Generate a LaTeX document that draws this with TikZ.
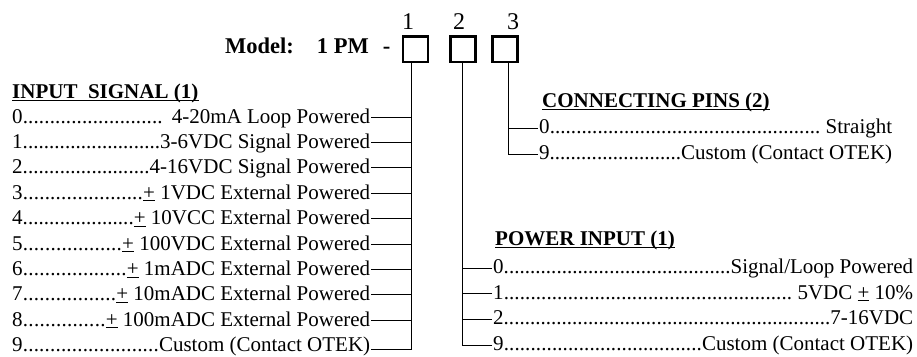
\documentclass[tikz,border=0pt]{standalone}
\usepackage{fontspec}
\setmainfont{Liberation Serif}
\newcommand\dfill{\xleaders\hbox{.}\hfill}
\newcommand\pmu{\underline{+}}
\tikzset{
 txt/.style={inner sep=0pt, anchor=base west, font=\fontsize{21}{25}\selectfont},
 head/.style={inner sep=0pt, anchor=base west, font=\fontsize{21}{25}\selectfont\bfseries},
 ul/.style={line width=1.1pt},
 wire/.style={line width=0.9pt},
 slot/.style={draw, line width=2.5pt, minimum width=25pt, minimum height=25.7pt, inner sep=0pt},
 num/.style={inner sep=0pt, anchor=base, font=\fontsize{24}{28}\selectfont}
}
\begin{document}
\begin{tikzpicture}[x=1pt,y=-1pt]
\useasboundingbox (0,0) rectangle (917,356);
% model line
\node[inner sep=0pt, anchor=base west, font=\fontsize{22.5}{26}\selectfont\bfseries] (model) at (225,53) {Model:\hspace{23pt}1 PM\hspace{14pt}-};
\node[slot] (b1) at (415.5,49.2) {};
\node[slot] (b2) at (463.2,49.2) {};
\node[slot] (b3) at (505.2,49.2) {};
\node[num] (n1) at (408,29) {1};
\node[num] (n2) at (459,29) {2};
\node[num] (n3) at (513,29) {3};
\coordinate (v1) at ([xshift=-3.8pt]b1.south);
\coordinate (v2) at ([xshift=-0.5pt]b2.south);
\coordinate (v3) at ([xshift=3.1pt]b3.south);
% input signal
\node[head] (h1) at (12,98) {INPUT\ \ SIGNAL (1)};
\draw[ul] ([yshift=-2.5pt]h1.base west) -- ([yshift=-2.5pt]h1.base east);
\node[txt] (i0) at (12,123) {\makebox[358pt]{0\dfill\hspace{9pt}4-20mA Loop Powered}};
\node[txt] (i1) at (12,148.4) {\makebox[358pt]{1\dfill3-6VDC Signal Powered}};
\node[txt] (i2) at (12,173.8) {\makebox[358pt]{2\dfill4-16VDC Signal Powered}};
\node[txt] (i3) at (12,199.2) {\makebox[358pt]{3\dfill\pmu\ 1VDC External Powered}};
\node[txt] (i4) at (12,224.6) {\makebox[358pt]{4\dfill\pmu\ 10VCC External Powered}};
\node[txt] (i5) at (12,250) {\makebox[358pt]{5\dfill\pmu\ 100VDC External Powered}};
\node[txt] (i6) at (12,275.4) {\makebox[358pt]{6\dfill\pmu\ 1mADC External Powered}};
\node[txt] (i7) at (12,300.8) {\makebox[358pt]{7\dfill\pmu\ 10mADC External Powered}};
\node[txt] (i8) at (12,326.2) {\makebox[358pt]{8\dfill\pmu\ 100mADC External Powered}};
\node[txt] (i9) at (12,351.4) {\makebox[358pt]{9\dfill Custom (Contact OTEK)}};
\foreach \r in {i0,i1,i2,i3,i4,i5,i6,i7,i8}
  \draw[wire] ([xshift=1pt,yshift=6pt]\r.base east) coordinate (t) -- (t -| v1);
\draw[wire] ([xshift=1pt,yshift=2pt]i9.base east) coordinate (t) -- (t -| v1) -- (v1);
% connecting pins
\node[head] (h3) at (542,107) {CONNECTING PINS (2)};
\draw[ul] ([yshift=-2.5pt]h3.base west) -- ([yshift=-2.5pt]h3.base east);
\node[txt] (c0) at (539,133.5) {\makebox[353pt]{0\dfill\ Straight}};
\node[txt] (c9) at (539,159) {\makebox[353pt]{9\dfill Custom (Contact OTEK)}};
\draw[wire] ([xshift=-1pt,yshift=5pt]c0.base west) coordinate (t) -- (t -| v3);
\draw[wire] ([xshift=-1pt,yshift=5pt]c9.base west) coordinate (t) -- (t -| v3) -- (v3);
% power input
\node[head] (h2) at (495,245) {POWER INPUT (1)};
\draw[ul] ([yshift=-2.5pt]h2.base west) -- ([yshift=-2.5pt]h2.base east);
\node[txt] (p0) at (493,273.5) {\makebox[420pt]{0\dfill Signal/Loop Powered}};
\node[txt] (p1) at (493,299) {\makebox[420pt]{1\dfill\ 5VDC \pmu\ 10\%}};
\node[txt] (p2) at (493,324.5) {\makebox[420pt]{2\dfill 7-16VDC}};
\node[txt] (p9) at (493,350.5) {\makebox[420pt]{9\dfill Custom (Contact OTEK)}};
\foreach \r in {p0,p1,p2}
  \draw[wire] ([xshift=-1pt,yshift=5.5pt]\r.base west) coordinate (t) -- (t -| v2);
\draw[wire] ([xshift=-1pt,yshift=5.5pt]p9.base west) coordinate (t) -- (t -| v2) -- (v2);
\end{tikzpicture}
\end{document}
